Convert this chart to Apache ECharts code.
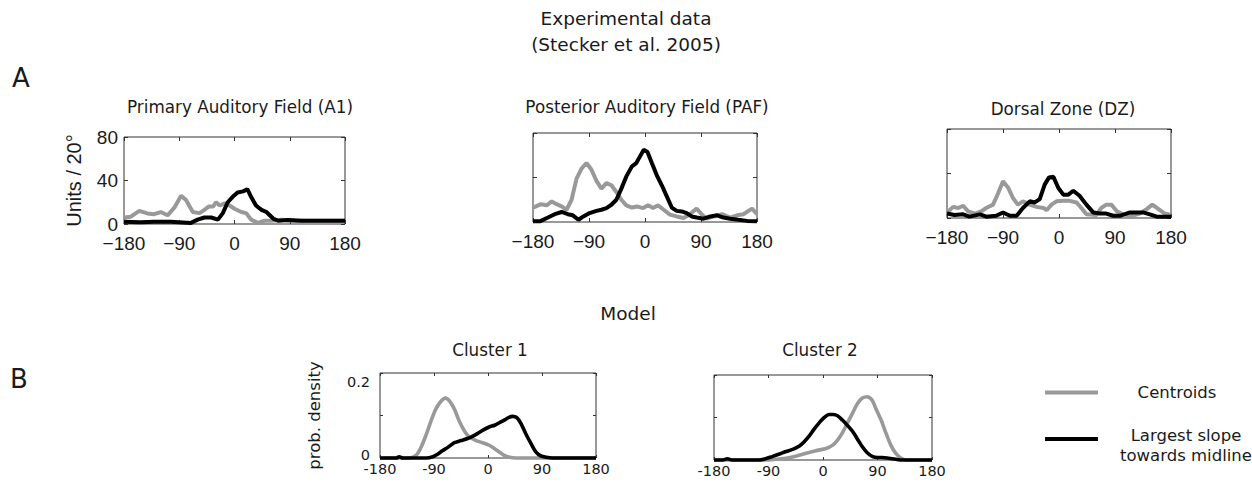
<!DOCTYPE html>
<html><head><meta charset="utf-8">
<script src="https://cdn.jsdelivr.net/npm/echarts@6/dist/echarts.min.js"></script>
<style>html,body{margin:0;padding:0;background:#fff}#c{width:1252px;height:486px}</style>
</head><body><div id="c"></div>
<script>
// ---------- data (angle in degrees, value) ----------
const a1CentAng = [-180,-169,-155,-142,-131,-120,-109,-98,-87,-79,-68,-57,-49,-42,-35,-30,-24,-16,-8,0,11,19,27,38,49,60,76,98,142,180];
const a1CentVal = [6,6.7,12,9.7,9,11,8,15,26,22,11,10,13,16,16,20,17,19,17,14,11,10,4,1,3,3,4,3,3,3];
const a1SlopeAng = [-180,-153,-131,-104,-71,-60,-49,-38,-27,-19,-11,-3,5,14,21,27,35,44,52,63,71,87,109,180];
const a1SlopeVal = [2,1.5,2,2,1,4,6,6,4,10,20,25,29,30,32,25,17,13,11,5,3,3.6,3,3];

const pafCentAng = [-180,-167,-158,-150,-142,-134,-126,-118,-110,-102,-94,-86,-78,-70,-62,-54,-46,-38,-30,-21,-13,-3,5,13,21,30,40,51,62,70,83,91,99,110,124,137,148,158,172,180];
const pafCentVal = [13,16,15,18.5,16,14,11,20,39,48,53,47,37,30,35,33,27,20,15,13,14,12.5,15,12.5,15,11,6.6,5,3.6,6,12,7,3,5,7,4,6,7,12,7];
const pafSlopeAng = [-180,-169,-156,-145,-134,-124,-116,-107,-99,-89,-78,-70,-62,-54,-46,-38,-30,-21,-14,-8,-2,4,11,19,27,35,43,51,59,67,75,83,94,105,116,126,137,150,164,180];
const pafSlopeVal = [0.6,0.6,4,7,9,7,6,2,5,8,10,11,12.5,15.5,20,30,41,50,53,59,65,63,53,42,33,23,13,10,9.5,8,5,4,3,5,6,4,3,2,1,0.6];

const dzCentAng = [-180,-170,-162,-154,-146,-135,-125,-117,-106,-98,-90,-82,-74,-66,-58,-47,-36,-25,-20,-12,-4,7,17,28,36,44,60,68,76,84,93,103,117,130,141,150,160,170,180];
const dzCentVal = [5,10,9,11,6,4,6,9,12,22,33,27.5,18,12,15,12,10,9,7,12,15,15.4,15.4,14,9,3.3,2.7,9,12,12,6,3.3,2,4,8,12,8,4,2.7];
const dzSlopeAng = [-180,-168,-154,-144,-127,-117,-101,-90,-79,-68,-58,-47,-39,-31,-23,-16,-9,-1,7,15,23,33,44,55,66,76,87,98,114,125,135,146,157,180];
const dzSlopeVal = [4,2.7,3.3,1.2,3.3,1.2,2,5,2,2,9,15,14,17,30,36.5,37,27,21,21,24.5,20,12,5,4,4,2,2,5,5,5,3.3,1.2,1.2];

const c1CentAng = [-180,-131,-120,-112,-103,-95,-87,-78,-71,-64,-56,-48,-39,-31,-20,-9,2,11,19,27,36,47,180];
const c1CentVal = [0,0,0.006,0.024,0.055,0.087,0.115,0.134,0.141,0.134,0.115,0.087,0.063,0.049,0.041,0.036,0.030,0.022,0.014,0.006,0.0016,0,0];
const c1SlopeAng = [-180,-153,-148,-142,-103,-92,-84,-76,-67,-56,-45,-34,-26,-17,-9,2,11,19,27,34,41,48,55,63,72,80,88,97,108,180];
const c1SlopeVal = [0,0,0.003,0,0,0.003,0.009,0.017,0.025,0.036,0.041,0.046,0.051,0.058,0.065,0.073,0.077,0.083,0.089,0.095,0.098,0.095,0.081,0.057,0.033,0.014,0.005,0.0016,0,0];

const c2CentAng = [-180,-89,-78,-61,-45,-28,-12,5,16,24,32,40,49,57,65,73,81,87,96,104,112,120,129,137,180];
const c2CentVal = [0,0,0.0016,0.004,0.009,0.016,0.022,0.027,0.035,0.047,0.064,0.086,0.111,0.133,0.146,0.149,0.141,0.122,0.094,0.063,0.035,0.016,0.004,0,0];
const c2SlopeAng = [-180,-166,-158,-150,-106,-95,-84,-72,-61,-50,-39,-31,-23,-15,-6,2,10,17,24,32,40,49,57,65,73,82,90,98,109,120,131,180];
const c2SlopeVal = [0,0,0.003,0,0,0.003,0.008,0.014,0.020,0.025,0.033,0.043,0.056,0.072,0.088,0.100,0.107,0.107,0.104,0.094,0.082,0.067,0.049,0.031,0.017,0.008,0.006,0.006,0.004,0.0016,0,0];

// ---------- tick labels ----------
const xTickLabelsA = ['\u2212180','\u221290','0','90','180'];
const xTickLabelsB = ['-180','-90','0','90','180'];
const yTickLabelsA = ['0','40','80'];
const yTickLabelsB = ['{lo|0}','','{hi|0.2}'];

const seriesNames = ['Centroids', 'Largest slope towards midline'];
const legendLines = ['Largest slope', 'towards midline'];
const panelTitles = ['Primary Auditory Field (A1)', 'Posterior Auditory Field (PAF)', 'Dorsal Zone (DZ)', 'Cluster 1', 'Cluster 2'];

// ---------- layout / style ----------
const GRAY = '#999999', BLACK = '#000000', FRAME = '#333333', TXT = '#1a1a1a';
const SANS = 'DejaVu Sans', HELV = 'Liberation Sans';
const zip = (a, b) => a.map((v, i) => [v, b[i]]);

const panels = [
  {grid:{left:124, top:137, width:221, height:87}, kind:'A', ylab:true,  title:[240,107], cent:[a1CentAng,a1CentVal],  slope:[a1SlopeAng,a1SlopeVal]},
  {grid:{left:533, top:133, width:224, height:89}, kind:'A', ylab:false, title:[647,107], cent:[pafCentAng,pafCentVal], slope:[pafSlopeAng,pafSlopeVal]},
  {grid:{left:947, top:129, width:224, height:89}, kind:'A', ylab:false, title:[1063,109], cent:[dzCentAng,dzCentVal],  slope:[dzSlopeAng,dzSlopeVal]},
  {grid:{left:380, top:373, width:216, height:85}, kind:'B', ylab:true,  title:[490,350], cent:[c1CentAng,c1CentVal],  slope:[c1SlopeAng,c1SlopeVal]},
  {grid:{left:714, top:375, width:218, height:85}, kind:'B', ylab:false, title:[820,350], cent:[c2CentAng,c2CentVal],  slope:[c2SlopeAng,c2SlopeVal]}
];

const grids = [], xAxes = [], yAxes = [], series = [], graphics = [];
panels.forEach((p, i) => {
  const A = p.kind === 'A';
  grids.push(Object.assign({show:true, borderColor:FRAME, borderWidth:1, backgroundColor:'transparent'}, p.grid));
  const tick = {show:true, inside:true, length:A ? 4 : 3, lineStyle:{color:FRAME, width:1}};
  const xl = A ? xTickLabelsA : xTickLabelsB;
  const xLab = {show:true, formatter:v => xl[Math.round((v + 180) / 90)],
    fontFamily:A ? HELV : SANS, fontSize:A ? 19 : 14.5, color:TXT, margin:A ? 10 : 3};
  const xbase = {gridIndex:i, type:'value', min:-180, max:180, interval:90,
    axisLine:{show:false, onZero:false}, splitLine:{show:false}, axisTick:tick};
  xAxes.push(Object.assign({}, xbase, {position:'bottom', axisLabel:xLab}));
  xAxes.push(Object.assign({}, xbase, {position:'top', axisLabel:{show:false}}));
  const yl = A ? yTickLabelsA : yTickLabelsB;
  const ybase = {gridIndex:i, type:'value', min:0, max:A ? 80 : 0.2, interval:A ? 40 : 0.1,
    axisLine:{show:false, onZero:false}, splitLine:{show:false}, axisTick:tick};
  const yLab = {show:p.ylab, formatter:v => yl[Math.round(v / (A ? 40 : 0.1))], fontFamily:A ? HELV : SANS,
    fontSize:A ? 19 : 14.5, color:TXT, margin:A ? 6 : 10};
  if (!A) yLab.rich = {
    hi:{fontFamily:SANS, fontSize:14.5, color:TXT, padding:[17,0,0,0]},
    lo:{fontFamily:SANS, fontSize:14.5, color:TXT, padding:[0,0,6,0]}
  };
  const yLeft = Object.assign({}, ybase, {position:'left', axisLabel:yLab});
  if (i === 0) Object.assign(yLeft, {name:'Units / 20\u00B0', nameLocation:'middle', nameGap:40,
    nameTextStyle:{fontFamily:HELV, fontSize:20, color:TXT}});
  if (i === 3) Object.assign(yLeft, {name:'prob. density', nameLocation:'middle', nameGap:57,
    nameTextStyle:{fontFamily:SANS, fontSize:16.5, color:TXT}});
  yAxes.push(yLeft);
  yAxes.push(Object.assign({}, ybase, {position:'right', axisLabel:{show:false}}));
  const lw = A ? 4 : 3.6;
  [[p.cent, GRAY, seriesNames[0]], [p.slope, BLACK, seriesNames[1]]].forEach(([d, col, nm]) => {
    series.push({type:'line', name:nm, xAxisIndex:2 * i, yAxisIndex:2 * i, data:zip(d[0], d[1]),
      symbol:'none', showSymbol:false, smooth:A ? false : 0.3, clip:false, color:col,
      lineStyle:{color:col, width:lw}, emphasis:{disabled:true}, silent:true});
  });
  graphics.push({type:'text', x:p.title[0], y:p.title[1], style:{text:panelTitles[i],
    fontFamily:SANS, fontSize:16.8, fill:TXT, align:'center', verticalAlign:'middle',
    textAlign:'center', textVerticalAlign:'middle'}});
});

const heads = [
  ['Experimental data', 626, 18, 18.5], ['(Stecker et al. 2005)', 626, 44, 18.5],
  ['A', 21, 78, 26], ['Model', 628, 313, 18.5], ['B', 19, 379, 26]
];
heads.forEach(([t, x, y, fs]) => graphics.push({type:'text', x, y, style:{text:t, fontFamily:SANS,
  fontSize:fs, fill:TXT, align:'center', verticalAlign:'middle', textAlign:'center', textVerticalAlign:'middle'}}));

const chart = echarts.init(document.getElementById('c'), null, {renderer:'svg'});
chart.setOption({
  animation:false,
  backgroundColor:'#ffffff',
  grid:grids, xAxis:xAxes, yAxis:yAxes, series:series, graphic:graphics,
  legend:[
    {data:[seriesNames[0]], left:1040, top:379, orient:'vertical', icon:'rect', itemWidth:53, itemHeight:4,
     selectedMode:false, formatter:n => '{c|' + n + '}',
     textStyle:{rich:{c:{width:148, align:'center', fontFamily:SANS, fontSize:16.5, color:TXT, lineHeight:22}}}},
    {data:[seriesNames[1]], left:1040, top:411, orient:'vertical', icon:'rect', itemWidth:53, itemHeight:4,
     selectedMode:false, formatter:n => '{s|}\n{b|' + legendLines[0] + '}\n{b|' + legendLines[1] + '}',
     textStyle:{rich:{
       s:{width:166, fontSize:6, lineHeight:12},
       b:{width:166, align:'center', fontFamily:SANS, fontSize:16.5, color:TXT, lineHeight:20}}}}
  ]
});
</script></body></html>
